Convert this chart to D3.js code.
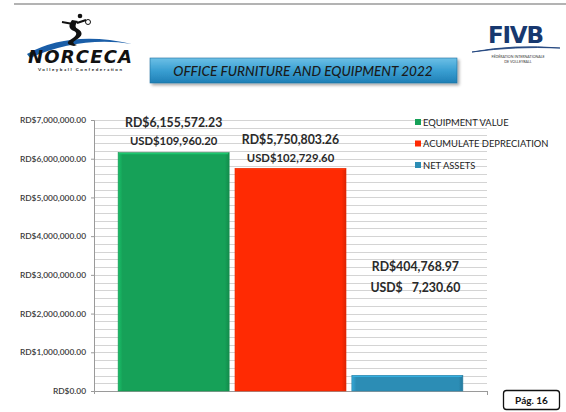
<!DOCTYPE html>
<meta charset="utf-8">
<head>
    <title>Office furniture and equipment 2022</title>
</head>
<script src="https://d3js.org/d3.v7.min.js"></script>
<style>
    body { margin: 0; background: #fff; }
    text { font-family: Lato, "Open Sans", sans-serif; }
    .grid line { stroke: #d4d4d4; stroke-width: 1px; }
    .ytick text { font-size: 8.4px; fill: #3a3a3a; font-weight: 600; }
    .val { font-size: 12.3px; font-weight: bold; fill: #2a2a2a; text-anchor: middle; }
    .legend text { font-size: 9.4px; fill: #222; }
</style>
<div id="viz"></div>
<script>
// data
var series = ['EQUIPMENT VALUE', 'ACUMULATE DEPRECIATION', 'NET ASSETS'];
var rdValues = [6155572.23, 5750803.26, 404768.97];
var rdLabels = ['RD$6,155,572.23', 'RD$5,750,803.26', 'RD$404,768.97'];
var usdLabels = ['USD$109,960.20', 'USD$102,729.60', 'USD$   7,230.60'];
var colors = ['#16a158', '#ff2a03', '#2c8db5'];
var yTicks = [0, 1000000, 2000000, 3000000, 4000000, 5000000, 6000000, 7000000];

var W = 566, H = 412;
var plot = {left: 94, right: 487, top: 120, bottom: 391};

var svg = d3.select('#viz').append('svg')
    .attr('width', W).attr('height', H);
var defs = svg.append('defs');

// bar gradients (slight bevel look)
colors.forEach(function(c, i) {
    var g = defs.append('linearGradient').attr('id', 'bar' + i)
        .attr('x1', 0).attr('y1', 0).attr('x2', 1).attr('y2', 0);
    g.append('stop').attr('offset', 0).attr('stop-color', d3.color(c).brighter(0.5));
    g.append('stop').attr('offset', 0.04).attr('stop-color', c);
    g.append('stop').attr('offset', 0.96).attr('stop-color', c);
    g.append('stop').attr('offset', 1).attr('stop-color', d3.color(c).darker(0.4));
});
var tg = defs.append('linearGradient').attr('id', 'titlegrad')
    .attr('x1', 0).attr('y1', 0).attr('x2', 0).attr('y2', 1);
tg.append('stop').attr('offset', 0).attr('stop-color', '#6cc0e6');
tg.append('stop').attr('offset', 0.5).attr('stop-color', '#3a9fd2');
tg.append('stop').attr('offset', 1).attr('stop-color', '#1f7fb6');
var sh = defs.append('filter').attr('id', 'shadow')
    .attr('x', '-5%').attr('y', '-20%').attr('width', '115%').attr('height', '160%');
sh.append('feDropShadow').attr('dx', 2).attr('dy', 2).attr('stdDeviation', 1.5)
    .attr('flood-color', '#000').attr('flood-opacity', 0.35);

// header rule
svg.append('line').attr('x1', 14).attr('x2', W).attr('y1', 4).attr('y2', 4)
    .attr('stroke', '#9a9a9a').attr('stroke-width', 1.5);

// NORCECA logo (simplified)
var nl = svg.append('g');
nl.append('path').attr('d', 'M27 54 Q70 30 132 44 Q80 36 30 58 Z').attr('fill', '#1a5ea8');
nl.append('path').attr('d', 'M72 20 Q66 28 74 31 Q80 34 70 40 Q64 44 74 46 L77 45 Q70 43 76 40 Q86 34 78 29 Q73 27 78 21 Z')
    .attr('fill', '#111');
nl.append('circle').attr('cx', 80).attr('cy', 16).attr('r', 2.3).attr('fill', '#111');
nl.append('circle').attr('cx', 88).attr('cy', 22).attr('r', 2.5).attr('fill', 'none').attr('stroke', '#111');
nl.append('path').attr('d', 'M73 24 L62 22 M77 23 L86 20').attr('stroke', '#111').attr('stroke-width', 2);
nl.append('text').attr('x', 80).attr('y', 63).attr('text-anchor', 'middle')
    .style('font-family', '"DejaVu Sans", sans-serif').style('font-size', '18px')
    .style('font-weight', 'bold').style('font-style', 'italic').attr('fill', '#111')
    .attr('textLength', 104).text('NORCECA');
nl.append('text').attr('x', 80).attr('y', 71).attr('text-anchor', 'middle')
    .style('font-size', '4.5px').style('font-weight', 'bold').attr('fill', '#222')
    .attr('textLength', 84).text('Volleyball   Confederation');

// FIVB logo (simplified)
var fl = svg.append('g');
fl.append('text').attr('x', 516).attr('y', 43).attr('text-anchor', 'middle')
    .style('font-family', '"DejaVu Sans", sans-serif').style('font-size', '23px')
    .style('font-weight', 'bold').attr('fill', '#17386f').attr('textLength', 56).text('FIVB');
fl.append('path').attr('d', 'M472 52 Q515 44 560 48 Q515 46 472 52 Z')
    .attr('fill', '#1b3f7a').attr('stroke', '#1b3f7a').attr('stroke-width', 0.8);
fl.append('text').attr('x', 518).attr('y', 58).attr('text-anchor', 'middle')
    .style('font-size', '3.6px').attr('fill', '#333').text('FÉDÉRATION INTERNATIONALE');
fl.append('text').attr('x', 518).attr('y', 63).attr('text-anchor', 'middle')
    .style('font-size', '3.6px').attr('fill', '#333').text('DE VOLLEYBALL');

// title box
svg.append('rect').attr('x', 150).attr('y', 58).attr('width', 307).attr('height', 25)
    .attr('fill', 'url(#titlegrad)').attr('stroke', '#1d6f9e').attr('stroke-width', 0.6)
    .attr('filter', 'url(#shadow)');
svg.append('text').attr('x', 303).attr('y', 76).attr('text-anchor', 'middle')
    .style('font-size', '13.6px').style('font-style', 'italic').style('font-weight', '500')
    .attr('fill', '#1a1a1a').text('OFFICE FURNITURE AND EQUIPMENT 2022');

// scales
var y = d3.scaleLinear().domain([0, 7000000]).range([plot.bottom, plot.top]);
var x0 = d3.scaleBand().domain(['2022']).range([plot.left, plot.right]).paddingOuter(0.07);
var x1 = d3.scaleBand().domain(series).range([0, x0.bandwidth()]).paddingInner(0.05);

// gridlines every 200,000
var grid = svg.append('g').attr('class', 'grid');
grid.selectAll('line').data(d3.range(0, 7000001, 200000)).enter().append('line')
    .attr('x1', plot.left).attr('x2', plot.right)
    .attr('y1', function(d) { return Math.round(y(d)) + 0.5; })
    .attr('y2', function(d) { return Math.round(y(d)) + 0.5; });

// y axis
var yAxis = svg.append('g').attr('class', 'ytick')
    .attr('transform', 'translate(' + plot.left + ',0)')
    .call(d3.axisLeft(y).tickValues(yTicks).tickSize(3).tickPadding(5)
        .tickFormat(function(d) { return 'RD$' + d3.format(',.2f')(d); }));
yAxis.select('.domain').attr('stroke', '#9a9a9a');
yAxis.selectAll('.tick line').attr('stroke', '#9a9a9a');

// x axis baseline
var xAxis = svg.append('g').attr('transform', 'translate(0,' + plot.bottom + ')')
    .call(d3.axisBottom(x0).tickSize(3).tickFormat(''));
xAxis.select('.domain').attr('stroke', '#9a9a9a');
xAxis.selectAll('.tick').remove();
svg.append('line').attr('x1', plot.right + 0.5).attr('x2', plot.right + 0.5)
    .attr('y1', plot.bottom).attr('y2', plot.bottom + 4).attr('stroke', '#9a9a9a');

// bars
var g = svg.append('g').attr('transform', 'translate(' + x0('2022') + ',0)');
g.selectAll('rect').data(series).enter().append('rect')
    .attr('x', function(d) { return x1(d); })
    .attr('y', function(d, i) { return y(rdValues[i]); })
    .attr('width', x1.bandwidth())
    .attr('height', function(d, i) { return y(0) - y(rdValues[i]); })
    .attr('fill', function(d, i) { return 'url(#bar' + i + ')'; })
    .attr('stroke', function(d, i) { return d3.color(colors[i]).darker(0.3); })
    .attr('stroke-width', 0.6);
// top highlight
g.selectAll('.hl').data(series).enter().append('line').attr('class', 'hl')
    .attr('x1', function(d) { return x1(d) + 1; })
    .attr('x2', function(d) { return x1(d) + x1.bandwidth() - 1; })
    .attr('y1', function(d, i) { return y(rdValues[i]) + 1; })
    .attr('y2', function(d, i) { return y(rdValues[i]) + 1; })
    .attr('stroke', function(d, i) { return d3.color(colors[i]).brighter(0.6); })
    .attr('stroke-width', 1.2);

// value labels (last one sits higher, as in the slide)
var labelLift = [26, 24, 0];
var labelAt = [null, null, 3100000];
var labelShift = [0, 0, 8];
series.forEach(function(s, i) {
    var cx = x1(s) + x1.bandwidth() / 2 + labelShift[i];
    var base = labelAt[i] === null ? y(rdValues[i]) - labelLift[i] : y(labelAt[i]);
    var gap = i === 2 ? 21 : 18;
    g.append('text').attr('class', 'val').attr('x', cx).attr('y', base).text(rdLabels[i]);
    g.append('text').attr('class', 'val').attr('x', cx).attr('y', base + gap)
        .style('font-size', i === 2 ? '12.3px' : '11.3px')
        .style('white-space', 'pre').attr('xml:space', 'preserve').text(usdLabels[i]);
});

// legend
var lg = svg.append('g').attr('class', 'legend').attr('transform', 'translate(415,119)');
var li = lg.selectAll('g').data(series).enter().append('g')
    .attr('transform', function(d, i) { return 'translate(0,' + (i * 21.5) + ')'; });
li.append('rect').attr('width', 6).attr('height', 6)
    .attr('fill', function(d, i) { return colors[i]; });
li.append('text').attr('x', 8).attr('y', 6.5).text(function(d) { return d; });

// page tag
svg.append('rect').attr('x', 503.5).attr('y', 390.5).attr('width', 56).attr('height', 19)
    .attr('rx', 3).attr('fill', '#fff').attr('stroke', '#111').attr('stroke-width', 1.3);
svg.append('text').attr('x', 531.5).attr('y', 404).attr('text-anchor', 'middle')
    .style('font-size', '10px').style('font-weight', 'bold').attr('fill', '#111').text('Pág. 16');
</script>
